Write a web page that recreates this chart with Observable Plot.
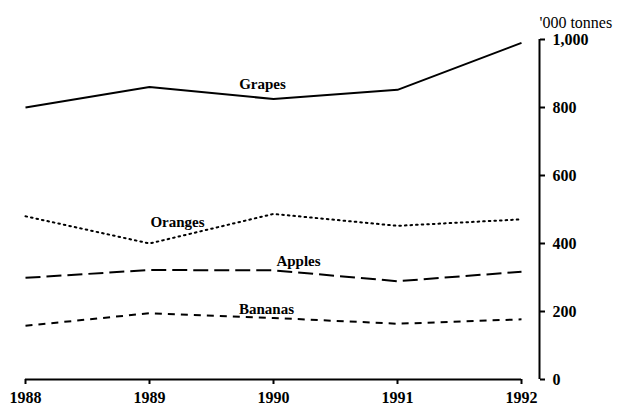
<!DOCTYPE html>
<html>
<head>
<meta charset="utf-8">
<script src="https://cdn.jsdelivr.net/npm/d3@7"></script>
<script src="https://cdn.jsdelivr.net/npm/@observablehq/plot@0.6"></script>
<style>
  html, body { margin: 0; padding: 0; background: #fff; }
  #chart { width: 619px; height: 407px; }
  #chart svg, #chart svg text { font-family: "Liberation Serif", "Times New Roman", serif !important; }
</style>
</head>
<body>
<div id="chart"></div>
<script>
const years = [1988, 1989, 1990, 1991, 1992];
const grapes = [800, 860, 825, 852, 990];
const oranges = [480, 400, 487, 452, 471];
const apples = [299, 322, 321, 289, 317];
const bananas = [158, 195, 181, 164, 177];
const yTicks = [0, 200, 400, 600, 800, 1000];
const unitLabel = "'000 tonnes";

const seriesDefs = [
  {name: "Grapes", values: grapes, dash: null, labelYear: 1990, dx: -11, dy: -15},
  {name: "Oranges", values: oranges, dash: "1.6,4", labelYear: 1989, dx: 28, dy: -21},
  {name: "Apples", values: apples, dash: "15,6", labelYear: 1990, dx: 25, dy: -9},
  {name: "Bananas", values: bananas, dash: "7,6", labelYear: 1990, dx: -7, dy: -9}
];

const rows = seriesDefs.flatMap(s => years.map((yr, i) => ({series: s.name, year: yr, value: s.values[i]})));

const font = "Liberation Serif, Times New Roman, serif";

const marks = [];
for (const s of seriesDefs) {
  const data = rows.filter(d => d.series === s.name);
  marks.push(Plot.line(data, {
    x: "year", y: "value", stroke: "#000", strokeWidth: 2,
    strokeDasharray: s.dash || undefined,
    strokeLinecap: s.dash === "1.6,4" ? "round" : "butt"
  }));
  marks.push(Plot.text(data.filter(d => d.year === s.labelYear), {
    x: "year", y: "value", text: () => s.name, dx: s.dx, dy: s.dy,
    fontSize: 15, fontWeight: "bold", fill: "#000", fontFamily: font
  }));
}

const chart = Plot.plot({
  width: 619,
  height: 407,
  marginLeft: 25,
  marginRight: 98,
  marginTop: 39,
  marginBottom: 28,
  style: {background: "#fff", fontFamily: font, color: "#000"},
  x: {domain: [1988, 1992]},
  y: {domain: [0, 1000]},
  marks: [
    Plot.ruleY([yTicks[0]], {stroke: "#000", strokeWidth: 2}),
    Plot.ruleX([years[years.length - 1]], {y1: yTicks[0], y2: yTicks[yTicks.length - 1], dx: 18, stroke: "#000", strokeWidth: 2}),
    Plot.axisX({ticks: years, tickFormat: d => String(d), tickSize: 5, tickPadding: 7,
      strokeWidth: 2, fontSize: 16, fontWeight: "bold", fontFamily: font, label: null}),
    Plot.axisY({anchor: "right", ticks: yTicks, tickFormat: d3.format(","), tickSize: 5,
      tickPadding: 8, dx: 18, strokeWidth: 2, fontSize: 16, fontWeight: "bold", fontFamily: font, label: null}),
    Plot.text([unitLabel], {frameAnchor: "top-right", text: d => d, dx: 18, dy: -17,
      lineAnchor: "middle", textAnchor: "start", fontSize: 16, fill: "#000", fontFamily: font}),
    ...marks
  ]
});
document.getElementById("chart").appendChild(chart);
</script>
</body>
</html>
